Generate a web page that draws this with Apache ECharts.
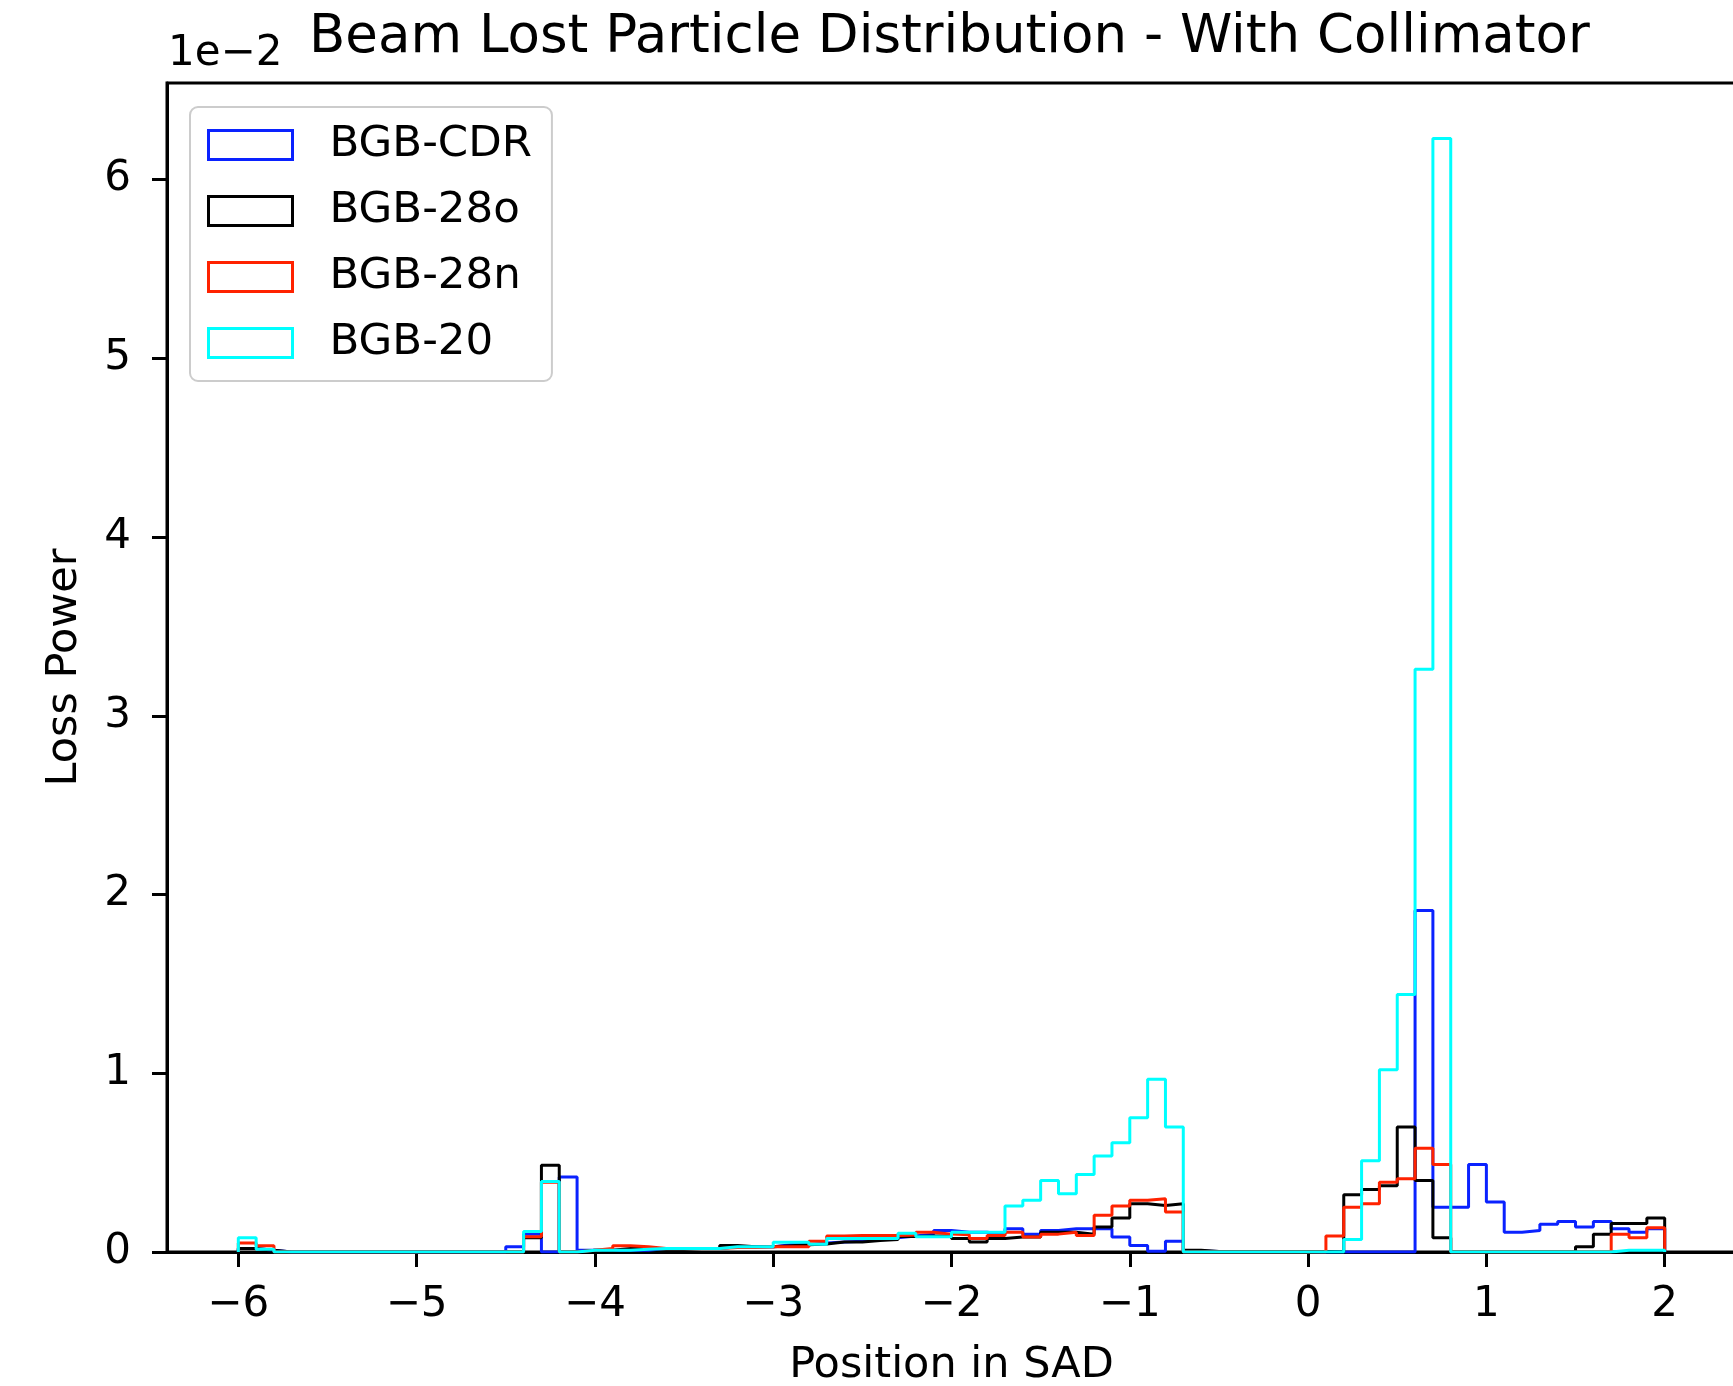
<!DOCTYPE html>
<html><head><meta charset="utf-8">
<script src="https://cdn.jsdelivr.net/npm/echarts@6/dist/echarts.min.js"></script>
<style>html,body{margin:0;padding:0;background:#fff}#chart{width:1733px;height:1386px}</style>
</head><body><div id="chart"></div>
<script>
// ---- text ----
const titleText = 'Beam Lost Particle Distribution - With Collimator';
const xAxisName = 'Position in SAD';
const yAxisName = 'Loss Power';
const offsetText = '1e\u22122';
const seriesNames = ['BGB-CDR', 'BGB-28o', 'BGB-28n', 'BGB-20'];
const seriesColors = ['#0a22ff', '#000000', '#ff2200', '#00ffff'];

// ---- bins (histogram range -6..2, 80 bins) ----
const binStart = -6, binWidth = 0.1, binCount = 80;
const binEdges = Array.from({length: binCount + 1}, (_, i) => +(binStart + binWidth * i).toFixed(1));

// ---- tick labels ----
const xTicks = [-6, -5, -4, -3, -2, -1, 0, 1, 2];
const yTicks = [0, 1, 2, 3, 4, 5, 6];

// ---- series values (units of 1e-2), one per bin ----
const cdr = [
  0.02, 0.01, 0, 0, 0, 0, 0, 0, 0, 0,
  0, 0, 0, 0, 0, 0.03, 0.10, 0, 0.42, 0.01,
  0.01, 0.01, 0.01, 0.02, 0.02, 0.02, 0.02, 0.03, 0.03, 0.03,
  0.04, 0.04, 0.05, 0.056, 0.06, 0.07, 0.08, 0.09, 0.10, 0.12,
  0.11, 0.11, 0.10, 0.13, 0.10, 0.12, 0.13, 0.13, 0.13, 0.084,
  0.037, 0.004, 0.06, 0.005, 0.003, 0.003, 0.003, 0.003, 0.003, 0.003,
  0, 0, 0, 0, 0, 0, 1.91, 0.25, 0.25, 0.49,
  0.28, 0.11, 0.12, 0.155, 0.17, 0.14, 0.17, 0.13, 0.11, 0.13
];
const bgb28o = [
  0.02, 0.01, 0, 0, 0, 0, 0, 0, 0, 0,
  0, 0, 0, 0, 0, 0, 0.08, 0.485, 0, 0.01,
  0.01, 0.02, 0.02, 0.015, 0.015, 0.02, 0.02, 0.037, 0.03, 0.03,
  0.035, 0.04, 0.045, 0.056, 0.056, 0.065, 0.07, 0.087, 0.09, 0.09,
  0.075, 0.056, 0.075, 0.084, 0.084, 0.11, 0.11, 0.10, 0.14, 0.19,
  0.27, 0.26, 0.27, 0.01, 0.003, 0.003, 0.003, 0.003, 0.003, 0.003,
  0.003, 0, 0.32, 0.35, 0.37, 0.70, 0.40, 0.08, 0, 0,
  0, 0, 0, 0, 0, 0.03, 0.10, 0.16, 0.16, 0.19
];
const bgb28n = [
  0.05, 0.035, 0, 0, 0, 0, 0, 0, 0, 0,
  0, 0, 0, 0, 0, 0, 0.085, 0.39, 0, 0.01,
  0.02, 0.035, 0.03, 0.02, 0.02, 0.02, 0.02, 0.025, 0.025, 0.03,
  0.03, 0.03, 0.06, 0.09, 0.093, 0.093, 0.093, 0.095, 0.11, 0.10,
  0.097, 0.075, 0.093, 0.11, 0.084, 0.10, 0.11, 0.093, 0.205, 0.257,
  0.29, 0.298, 0.224, 0, 0, 0, 0, 0, 0, 0,
  0, 0.09, 0.25, 0.27, 0.39, 0.41, 0.58, 0.49, 0, 0,
  0, 0, 0, 0, 0, 0, 0, 0.10, 0.08, 0.135
];
const bgb20 = [
  0.08, 0.015, 0, 0, 0, 0, 0, 0, 0, 0,
  0, 0, 0, 0, 0, 0, 0.115, 0.395, 0, 0.01,
  0.01, 0.01, 0.015, 0.02, 0.02, 0.02, 0.02, 0.03, 0.03, 0.03,
  0.055, 0.055, 0.043, 0.075, 0.075, 0.075, 0.075, 0.105, 0.085, 0.085,
  0.11, 0.11, 0.11, 0.257, 0.289, 0.40, 0.326, 0.434, 0.537, 0.611,
  0.751, 0.966, 0.699, 0, 0, 0, 0, 0, 0, 0,
  0, 0, 0.07, 0.51, 1.02, 1.44, 3.26, 6.23, 0, 0,
  0, 0, 0, 0, 0, 0, 0, 0.01, 0.01, 0.01
];
const allValues = [cdr, bgb28o, bgb28n, bgb20];

// ---- build step-outline data (matplotlib histtype='step') ----
function stepData(vals) {
  const pts = [[binEdges[0], 0]];
  vals.forEach((v, i) => pts.push([binEdges[i], v]));
  pts.push([binEdges[binCount], vals[binCount - 1]]);
  pts.push([binEdges[binCount], 0]);
  return pts;
}

const FONT = 'DejaVu Sans';
const fmtMinus = v => (v < 0 ? '\u2212' + Math.abs(v) : String(v));

const chart = echarts.init(document.getElementById('chart'), null, {renderer: 'canvas'});
chart.setOption({
  animation: false,
  backgroundColor: '#ffffff',
  title: {
    text: titleText, left: 309, top: 12, padding: 0,
    textStyle: {fontFamily: FONT, fontSize: 53, fontWeight: 'normal', color: '#000'}
  },
  graphic: [{
    type: 'text', left: 168, top: 33,
    style: {text: offsetText, fontFamily: FONT, fontSize: 42, fill: '#000'}
  }],
  grid: {
    left: 167, top: 83, width: 1569, height: 1169,
    outerBoundsMode: 'none', containLabel: false,
    show: true, borderColor: '#000', borderWidth: 3, backgroundColor: 'transparent'
  },
  legend: {
    orient: 'vertical', left: 190, top: 107,
    padding: [16, 20, 16, 17],
    itemWidth: 84, itemHeight: 29, itemGap: 22,
    backgroundColor: 'rgba(255,255,255,0.8)',
    borderColor: '#cccccc', borderWidth: 2, borderRadius: 8,
    textStyle: {fontFamily: FONT, fontSize: 43.5, color: '#000', padding: [0, 0, 0, 32]},
    data: seriesNames.map((n, i) => ({
      name: n, icon: 'rect',
      itemStyle: {color: '#ffffff', borderColor: seriesColors[i], borderWidth: 3}
    }))
  },
  xAxis: {
    type: 'value', min: -6.4, max: 2.4,
    name: xAxisName, nameLocation: 'middle', nameGap: 92,
    nameTextStyle: {fontFamily: FONT, fontSize: 43, color: '#000'},
    axisLine: {show: true, onZero: false, lineStyle: {color: '#000', width: 3}},
    axisTick: {show: true, length: 15, lineStyle: {color: '#000', width: 3}, customValues: xTicks},
    axisLabel: {fontFamily: FONT, fontSize: 42, color: '#000', margin: 32, customValues: xTicks, formatter: fmtMinus},
    splitLine: {show: false}
  },
  yAxis: {
    type: 'value', min: 0, max: 6.54,
    name: yAxisName, nameLocation: 'middle', nameGap: 81, nameRotate: 90,
    nameTextStyle: {fontFamily: FONT, fontSize: 43, color: '#000'},
    axisLine: {show: true, onZero: false, lineStyle: {color: '#000', width: 3}},
    axisTick: {show: true, length: 15, lineStyle: {color: '#000', width: 3}, customValues: yTicks},
    axisLabel: {fontFamily: FONT, fontSize: 42, color: '#000', margin: 36, customValues: yTicks, formatter: fmtMinus},
    splitLine: {show: false}
  },
  series: allValues.map((vals, i) => ({
    name: seriesNames[i], type: 'line', step: 'end',
    data: stepData(vals), showSymbol: false, symbol: 'none',
    color: seriesColors[i],
    lineStyle: {color: seriesColors[i], width: 3},
    clip: true, z: 2 + i
  }))
});
</script>
</body></html>
